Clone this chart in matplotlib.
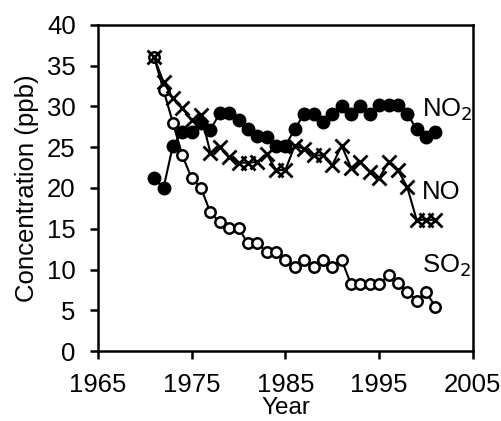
import numpy as np
import matplotlib
matplotlib.use('Agg')
import matplotlib.pyplot as plt

plt.rcParams['font.family'] = ['Liberation Sans', 'DejaVu Sans']

# annual means, 1971-2001
years = list(range(1971, 2002))
no2 = [21.2, 20.0, 25.2, 26.9, 26.9, 28.0, 27.1, 29.2, 29.2, 28.3, 27.2,
       26.4, 26.2, 25.2, 25.2, 27.2, 29.1, 29.1, 28.1, 29.1, 30.1,
       29.1, 30.1, 29.1, 30.2, 30.2, 30.2, 29.1, 27.2, 26.3, 26.9]
no = [36.0, 33.0, 31.0, 29.8, 28.3, 29.0, 24.3, 25.0, 23.8, 23.1, 23.1,
      23.2, 24.2, 22.2, 22.2, 25.2, 24.8, 24.0, 24.0, 22.8, 25.2,
      22.5, 23.2, 22.0, 21.2, 23.2, 22.2, 20.1, 16.1, 16.1, 16.1]
so2 = [36.0, 32.0, 28.0, 24.0, 21.2, 20.0, 17.0, 15.8, 15.1, 15.1, 13.2,
       13.2, 12.2, 12.2, 11.2, 10.3, 11.2, 10.3, 11.2, 10.3, 11.2,
       8.2, 8.2, 8.2, 8.2, 9.3, 8.3, 7.3, 6.2, 7.3, 5.4]

xticks = [1965, 1975, 1985, 1995, 2005]
yticks = [0, 5, 10, 15, 20, 25, 30, 35, 40]

fs = 18.5

fig = plt.figure(figsize=(5.02, 4.21), dpi=100)
ax = fig.add_axes([0.195, 0.166, 0.747, 0.775])

ax.plot(years, so2, color='black', lw=1.5, marker='o', ms=7.5,
        mfc='white', mec='black', mew=1.8, zorder=3)
ax.plot(years, no2, color='black', lw=1.5, marker='o', ms=9,
        mfc='black', mec='black', zorder=4)
ax.plot(years, no, color='black', lw=1.5, marker='x', ms=10,
        mew=2.0, zorder=5)

ax.text(1999.6, 29.6, 'NO$_2$', fontsize=fs, va='center', ha='left')
ax.text(1999.6, 19.5, 'NO', fontsize=fs, va='center', ha='left')
ax.text(1999.6, 10.5, 'SO$_2$', fontsize=fs, va='center', ha='left')

ax.set_xlim(1965, 2005)
ax.set_ylim(0, 40)
ax.set_xticks(xticks)
ax.set_yticks(yticks)
ax.tick_params(direction='out', length=6, width=1.8, labelsize=fs)
ax.tick_params(axis='y', pad=10)
ax.tick_params(axis='x', pad=10)
for s in ax.spines.values():
    s.set_linewidth(1.8)

ax.set_xlabel('Year', fontsize=17.5, labelpad=0)
ax.set_ylabel('Concentration (ppb)', fontsize=fs, labelpad=6)

fig.savefig('out.png', dpi=100)
